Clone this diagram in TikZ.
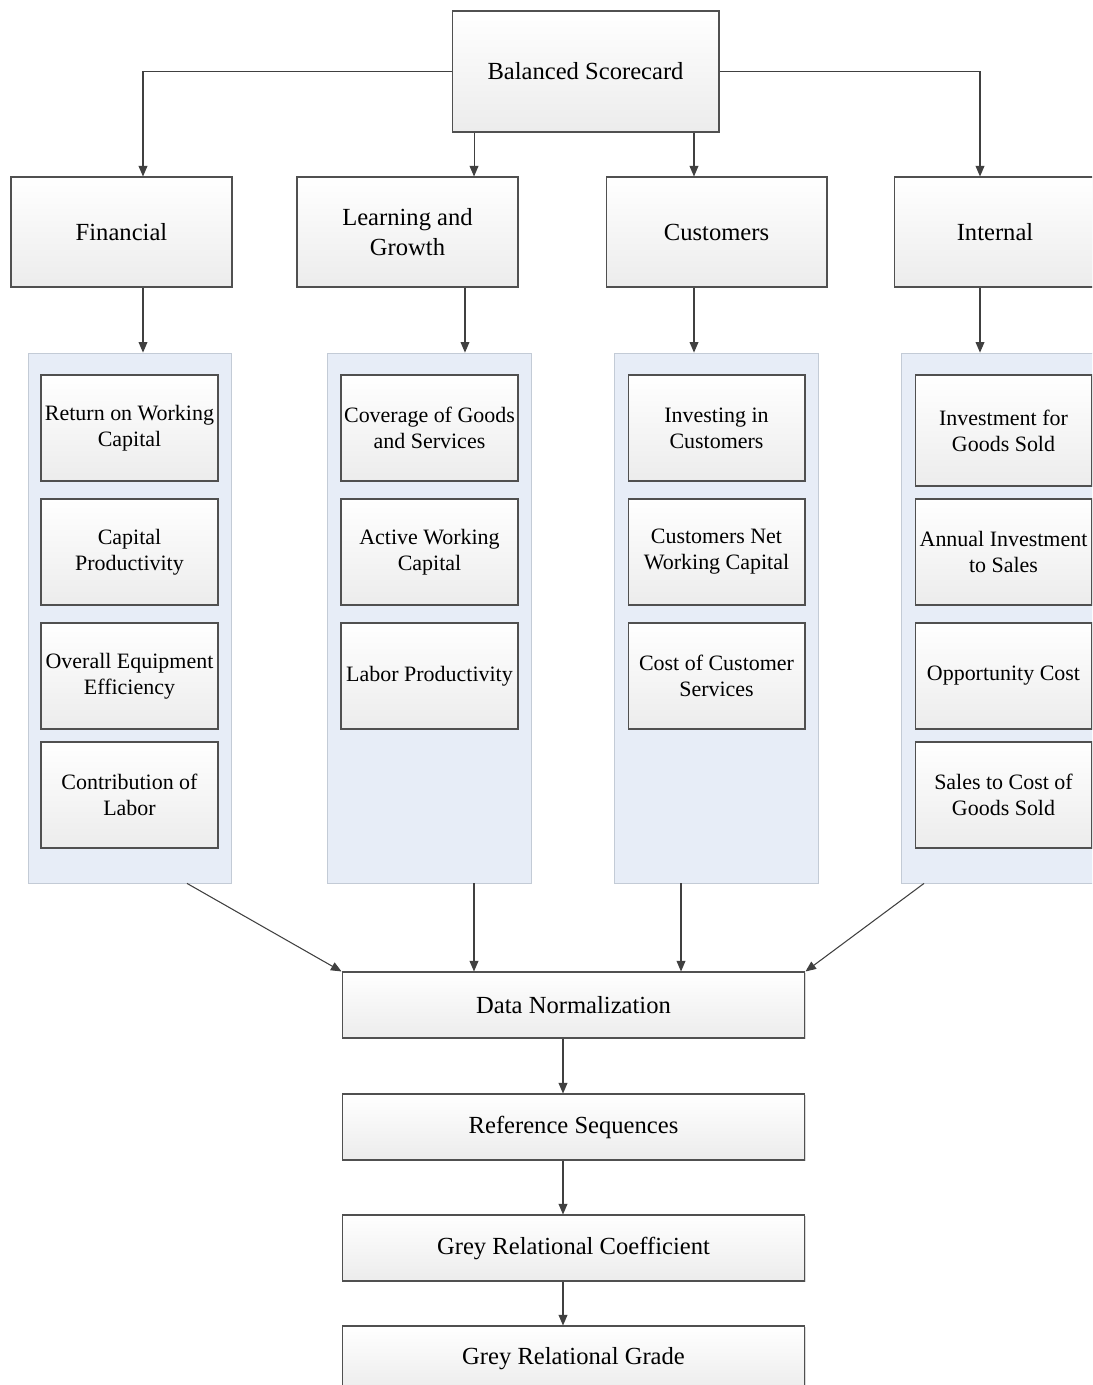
\documentclass[tikz,border=0pt]{standalone}
\usepackage{fontspec}
\setmainfont{Liberation Serif}
\usetikzlibrary{positioning, arrows.meta, shadows}

\definecolor{boxline}{HTML}{505050}
\definecolor{boxbot}{HTML}{ECECEC}
\definecolor{panelfill}{HTML}{E7EDF7}
\definecolor{panelline}{HTML}{C3CBD6}
\definecolor{arrline}{HTML}{404040}

\tikzset{
  box/.style={draw=boxline, line width=0.6pt, top color=white, bottom color=boxbot,
    drop shadow={shadow xshift=0.7pt, shadow yshift=-0.7pt, fill=black, opacity=0.15},
    align=center, inner sep=0pt, font=\fontsize{14}{17}\selectfont},
  topbox/.style={box, minimum width=4.42cm, minimum height=2.2cm},
  subbox/.style={box, minimum width=3.54cm, minimum height=2.12cm,
    font=\fontsize{12.5}{14.7}\selectfont},
  stepbox/.style={box, minimum width=9.26cm, minimum height=1.32cm},
  panel/.style={draw=panelline, line width=0.5pt, fill=panelfill, inner sep=0pt,
    minimum width=4.07cm, minimum height=10.6cm},
  arr/.style={draw=arrline, line width=0.6pt, -{Triangle[width=5pt,length=6pt]}},
}

\begin{document}
\begin{tikzpicture}[x=0.02cm, y=-0.02cm]
  \clip (0,0) rectangle (1092,1385);
  \fill[white] (0,0) rectangle (1092,1385);

  % top level
  \node[box, minimum width=5.34cm, minimum height=2.42cm] (bsc) at (585.5,71.5) {Balanced Scorecard};

  \node[topbox] (fin) at (121.5,232) {Financial};
  \node[topbox] (lrn) at (407.5,232) {Learning and\\Growth};
  \node[topbox] (cus) at (716.5,232) {Customers};
  \node[topbox, minimum width=4.04cm] (int) at (995,232) {Internal};

  % panels
  \node[panel] (finp) at (130,618) {};
  \node[panel] (lrnp) at (429.5,618) {};
  \node[panel] (cusp) at (716.5,618) {};
  \node[panel] (intp) at (1003.5,618) {};

  % indicators
  \node[subbox] (fin1) at (129.5,428) {Return on Working\\Capital};
  \node[subbox] (fin2) at (129.5,552) {Capital\\Productivity};
  \node[subbox] (fin3) at (129.5,676) {Overall Equipment\\Efficiency};
  \node[subbox] (fin4) at (129.5,795) {Contribution of\\Labor};

  \node[subbox] (lrn1) at (429.5,428) {Coverage of Goods\\and Services};
  \node[subbox] (lrn2) at (429.5,552) {Active Working\\Capital};
  \node[subbox] (lrn3) at (429.5,676) {Labor Productivity};

  \node[subbox] (cus1) at (716.5,428) {Investing in\\Customers};
  \node[subbox] (cus2) at (716.5,552) {Customers Net\\Working Capital};
  \node[subbox] (cus3) at (716.5,676) {Cost of Customer\\Services};

  \node[subbox, minimum height=2.22cm] (int1) at (1003.5,430.5) {Investment for\\Goods Sold};
  \node[subbox] (int2) at (1003.5,552) {Annual Investment\\to Sales};
  \node[subbox] (int3) at (1003.5,676) {Opportunity Cost};
  \node[subbox] (int4) at (1003.5,795) {Sales to Cost of\\Goods Sold};

  % grey relational steps
  \node[stepbox] (dn) at (573.5,1005) {Data Normalization};
  \node[stepbox] (rs) at (573.5,1127) {Reference Sequences};
  \node[stepbox] (grc) at (573.5,1248) {Grey Relational Coefficient};
  \node[stepbox] (grg) at (573.5,1359) {Grey Relational Grade};

  % connectors
  \draw[arr] (bsc.west) -| ([xshift=0.43cm]fin.north);
  \draw[arr] ([xshift=-2.23cm]bsc.south) -- ([xshift=-2.23cm]bsc.south |- lrn.north);
  \draw[arr] ([xshift=2.17cm]bsc.south) -- ([xshift=2.17cm]bsc.south |- cus.north);
  \draw[arr] (bsc.east) -| ([xshift=-0.3cm]int.north);

  \draw[arr] ([xshift=0.43cm]fin.south) -- ([xshift=0.43cm]fin.south |- finp.north);
  \draw[arr] ([xshift=1.15cm]lrn.south) -- ([xshift=1.15cm]lrn.south |- lrnp.north);
  \draw[arr] ([xshift=-0.45cm]cus.south) -- ([xshift=-0.45cm]cus.south |- cusp.north);
  \draw[arr] ([xshift=-0.3cm]int.south) -- ([xshift=-0.3cm]int.south |- intp.north);

  \draw[arr] ([xshift=1.14cm]finp.south) -- (dn.north west);
  \draw[arr] ([xshift=0.89cm]lrnp.south) -- ([xshift=0.89cm]lrnp.south |- dn.north);
  \draw[arr] ([xshift=-0.71cm]cusp.south) -- ([xshift=-0.71cm]cusp.south |- dn.north);
  \draw[arr] ([xshift=-1.59cm]intp.south) -- (dn.north east);

  \draw[arr] ([xshift=-0.21cm]dn.south) -- ([xshift=-0.21cm]dn.south |- rs.north);
  \draw[arr] ([xshift=-0.21cm]rs.south) -- ([xshift=-0.21cm]rs.south |- grc.north);
  \draw[arr] ([xshift=-0.21cm]grc.south) -- ([xshift=-0.21cm]grc.south |- grg.north);
\end{tikzpicture}
\end{document}
